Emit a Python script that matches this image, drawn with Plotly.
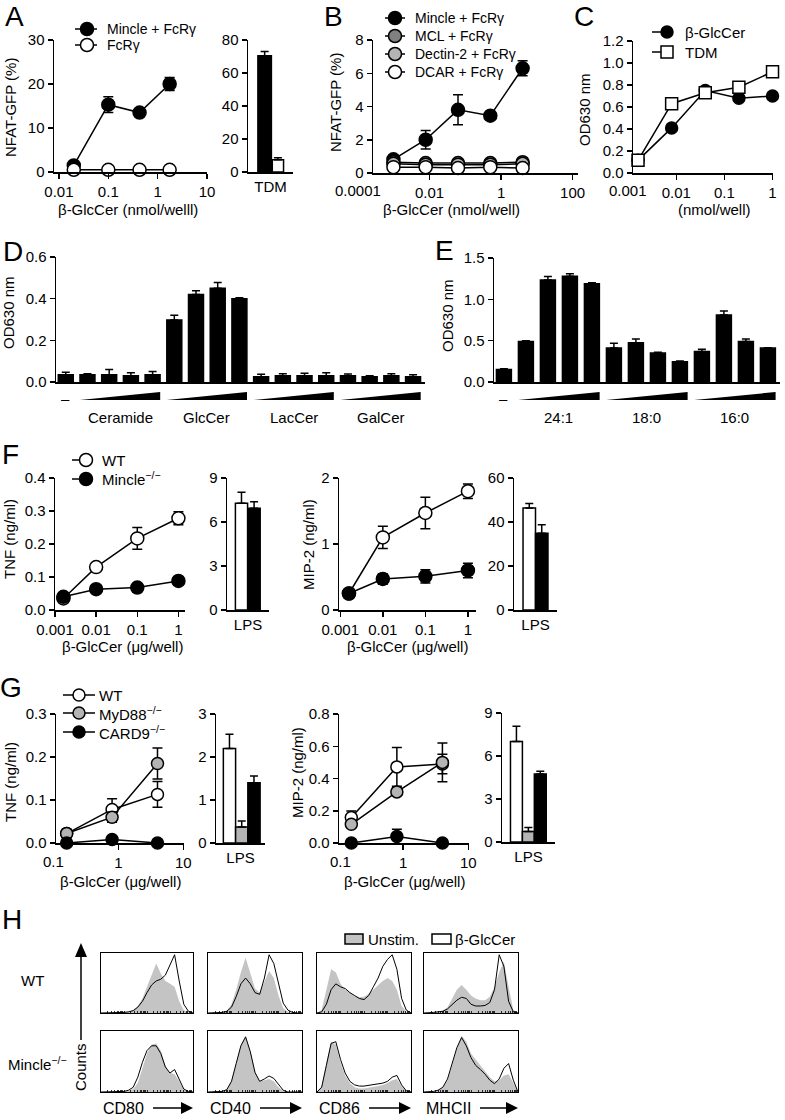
import plotly.graph_objects as go

W, H = 785, 1120
FONT = "Liberation Sans, Arial, Helvetica, sans-serif"

# ======================= DATA =======================
# ---- A ----
A_DOSE = [0.02, 0.1, 0.43, 1.75]
A_MINCLE = [1.5, 15.3, 13.5, 20.0]
A_MINCLE_ERR = [0.5, 1.8, 0.6, 1.5]
A_FCRG = [0.5, 0.5, 0.5, 0.5]
A_FCRG_ERR = [0.2, 0.2, 0.2, 0.2]
A_BAR_CAT = ["TDM"]
A_BAR_MINCLE = [70.5]
A_BAR_MINCLE_ERR = [2.5]
A_BAR_FCRG = [7.5]
A_BAR_FCRG_ERR = [1.2]

# ---- B ----
B_DOSE = [0.00098, 0.0078, 0.0625, 0.5, 4]
B_MINCLE = [0.82, 2.0, 3.8, 3.45, 6.3]
B_MINCLE_ERR = [0.15, 0.55, 0.9, 0.1, 0.45]
B_MCL = [0.65, 0.6, 0.6, 0.6, 0.65]
B_DECTIN2 = [0.55, 0.5, 0.5, 0.5, 0.55]
B_DCAR = [0.35, 0.35, 0.3, 0.35, 0.3]

# ---- C ----
C_DOSE = [0.0016, 0.008, 0.04, 0.2, 1]
C_GLCCER = [0.115, 0.41, 0.75, 0.68, 0.70]
C_GLCCER_ERR = [0.01, 0.03, 0.02, 0.02, 0.02]
C_TDM = [0.115, 0.63, 0.73, 0.78, 0.92]
C_TDM_ERR = [0.01, 0.02, 0.02, 0.02, 0.02]

# ---- D ----
D_GROUPS = ["Ceramide", "GlcCer", "LacCer", "GalCer"]
D_CONTROL = [0.035]
D_CONTROL_ERR = [0.012]
D_CERAMIDE = [0.035, 0.035, 0.03, 0.035]
D_CERAMIDE_ERR = [0.005, 0.025, 0.015, 0.015]
D_GLCCER = [0.298, 0.42, 0.45, 0.40]
D_GLCCER_ERR = [0.022, 0.018, 0.028, 0.004]
D_LACCER = [0.025, 0.03, 0.03, 0.03]
D_LACCER_ERR = [0.012, 0.01, 0.012, 0.015]
D_GALCER = [0.03, 0.025, 0.03, 0.025]
D_GALCER_ERR = [0.008, 0.005, 0.01, 0.01]

# ---- E ----
E_GROUPS = ["24:1", "18:0", "16:0"]
E_CONTROL = [0.15]
E_CONTROL_ERR = [0.01]
E_241 = [0.49, 1.235, 1.28, 1.19]
E_241_ERR = [0.01, 0.04, 0.03, 0.01]
E_180 = [0.41, 0.475, 0.35, 0.245]
E_180_ERR = [0.06, 0.045, 0.01, 0.01]
E_160 = [0.37, 0.81, 0.49, 0.41]
E_160_ERR = [0.025, 0.05, 0.03, 0.005]

# ---- F ----
F_DOSE = [0.0016, 0.01, 0.1, 1]
F_TNF_WT = [0.035, 0.13, 0.217, 0.278]
F_TNF_WT_ERR = [0.005, 0.01, 0.033, 0.02]
F_TNF_KO = [0.04, 0.063, 0.068, 0.088]
F_TNF_KO_ERR = [0.004, 0.005, 0.005, 0.006]
F_LPS_CAT = ["LPS"]
F_TNF_LPS_WT = [7.27]
F_TNF_LPS_WT_ERR = [0.75]
F_TNF_LPS_KO = [6.93]
F_TNF_LPS_KO_ERR = [0.45]
F_MIP_WT = [0.25, 1.1, 1.47, 1.8]
F_MIP_WT_ERR = [0.03, 0.17, 0.24, 0.11]
F_MIP_KO = [0.25, 0.47, 0.51, 0.6]
F_MIP_KO_ERR = [0.03, 0.08, 0.1, 0.11]
F_MIP_LPS_WT = [46.4]
F_MIP_LPS_WT_ERR = [2.0]
F_MIP_LPS_KO = [34.9]
F_MIP_LPS_KO_ERR = [3.9]

# ---- G ----
G_DOSE = [0.16, 0.8, 4]
G_TNF_WT = [0.022, 0.078, 0.113]
G_TNF_WT_ERR = [0.008, 0.025, 0.03]
G_TNF_MYD88 = [0.022, 0.06, 0.185]
G_TNF_MYD88_ERR = [0.01, 0.012, 0.036]
G_TNF_CARD9 = [0.0, 0.008, 0.0]
G_TNF_CARD9_ERR = [0.003, 0.004, 0.002]
G_LPS_CAT = ["LPS"]
G_TNF_LPS_WT = [2.2]
G_TNF_LPS_WT_ERR = [0.33]
G_TNF_LPS_MYD88 = [0.37]
G_TNF_LPS_MYD88_ERR = [0.14]
G_TNF_LPS_CARD9 = [1.4]
G_TNF_LPS_CARD9_ERR = [0.16]
G_MIP_WT = [0.158, 0.472, 0.49]
G_MIP_WT_ERR = [0.04, 0.12, 0.06]
G_MIP_MYD88 = [0.116, 0.317, 0.5]
G_MIP_MYD88_ERR = [0.02, 0.02, 0.12]
G_MIP_CARD9 = [0.0, 0.04, 0.0]
G_MIP_CARD9_ERR = [0.005, 0.045, 0.005]
G_MIP_LPS_WT = [7.02]
G_MIP_LPS_WT_ERR = [1.05]
G_MIP_LPS_MYD88 = [0.74]
G_MIP_LPS_MYD88_ERR = [0.28]
G_MIP_LPS_CARD9 = [4.74]
G_MIP_LPS_CARD9_ERR = [0.2]

# ---- H (flow histograms, relative counts per fluorescence bin) ----
H_MARKERS = ["CD80", "CD40", "CD86", "MHCII"]
H_BINS = [1, 1.58, 2.51, 3.98, 6.31, 10, 15.8, 25.1, 39.8, 63.1, 100,
          158, 251, 398, 631, 1000, 1585, 2512, 3981, 6310, 10000]
H_WT_CD80_UNSTIM = [0, 0, 0, 0, 0, 1, 2, 5, 12, 25, 45, 65, 85, 68, 55, 50, 45, 20, 5, 1, 0]
H_WT_CD80_GLC = [0, 0, 0, 0, 0, 1, 2, 4, 10, 20, 35, 48, 55, 58, 65, 82, 100, 55, 15, 3, 0]
H_WT_CD40_UNSTIM = [0, 0, 0, 1, 4, 15, 40, 70, 95, 70, 42, 35, 55, 72, 60, 30, 8, 2, 0, 0, 0]
H_WT_CD40_GLC = [0, 0, 0, 1, 3, 10, 28, 50, 60, 50, 35, 32, 60, 100, 85, 50, 17, 5, 1, 0, 0]
H_WT_CD86_UNSTIM = [0, 5, 40, 75, 70, 50, 40, 35, 30, 27, 28, 33, 40, 48, 55, 60, 55, 40, 12, 2, 0]
H_WT_CD86_GLC = [0, 2, 15, 40, 50, 45, 42, 35, 30, 25, 23, 30, 45, 60, 80, 92, 100, 75, 25, 5, 0]
H_WT_MHCII_UNSTIM = [0, 0, 1, 2, 4, 10, 25, 40, 48, 40, 30, 25, 22, 22, 28, 45, 70, 88, 45, 5, 0]
H_WT_MHCII_GLC = [0, 0, 1, 2, 3, 7, 15, 22, 27, 25, 15, 12, 12, 13, 18, 40, 100, 80, 20, 2, 0]
H_KO_CD80_UNSTIM = [0, 0, 0, 0, 0, 1, 2, 5, 15, 40, 65, 80, 82, 70, 45, 32, 30, 18, 4, 1, 0]
H_KO_CD80_GLC = [0, 0, 0, 0, 0, 1, 3, 8, 25, 50, 70, 78, 78, 65, 42, 32, 38, 22, 5, 1, 0]
H_KO_CD40_UNSTIM = [0, 0, 0, 1, 5, 20, 50, 80, 95, 70, 35, 18, 20, 22, 18, 8, 2, 0, 0, 0, 0]
H_KO_CD40_GLC = [0, 0, 0, 1, 4, 18, 48, 78, 93, 68, 33, 18, 22, 27, 23, 12, 3, 0, 0, 0, 0]
H_KO_CD86_UNSTIM = [0, 10, 50, 85, 80, 50, 28, 15, 8, 6, 6, 7, 8, 10, 12, 15, 20, 22, 10, 2, 0]
H_KO_CD86_GLC = [0, 8, 45, 82, 85, 55, 32, 18, 12, 10, 10, 11, 12, 14, 15, 18, 25, 28, 12, 2, 0]
H_KO_MHCII_UNSTIM = [0, 0, 1, 3, 8, 20, 45, 75, 95, 85, 65, 55, 45, 35, 25, 18, 20, 28, 30, 15, 0]
H_KO_MHCII_GLC = [0, 0, 1, 3, 8, 22, 48, 75, 92, 78, 58, 45, 38, 30, 20, 14, 22, 40, 48, 20, 0]

# ======================= HELPERS =======================
BLACK, WHITE = "black", "white"
DGRAY, LGRAY, HGRAY = "#808080", "#b4b4b4", "#c4c4c4"
LW = 1.5


def PX(x):
    return x / W


def PY(y):
    return 1 - y / H


AXBASE = dict(showline=True, linecolor=BLACK, linewidth=LW, ticks="outside",
              tickcolor=BLACK, ticklen=5, tickwidth=LW, showgrid=False,
              zeroline=False, automargin=False,
              tickfont=dict(size=15, color=BLACK, family=FONT),
              fixedrange=True)

fig = go.Figure()
axes_layout = {}
counter = [0]


def new_axes(x0, x1, top, bot, xcfg, ycfg):
    counter[0] += 1
    k = counter[0]
    s = "" if k == 1 else str(k)
    xa = dict(AXBASE)
    xa.update(domain=[PX(x0), PX(x1)], anchor="y" + s)
    xa.update(xcfg)
    ya = dict(AXBASE)
    ya.update(domain=[PY(bot), PY(top)], anchor="x" + s)
    ya.update(ycfg)
    axes_layout["xaxis" + s] = xa
    axes_layout["yaxis" + s] = ya
    return "x" + s, "y" + s


def line_tr(xa, ya, x, y, err, fill, size=13, symbol="circle"):
    eb = dict(type="data", array=err, color=BLACK, thickness=LW, width=5) if err else dict(visible=False)
    return go.Scatter(x=x, y=y, xaxis=xa, yaxis=ya, mode="lines+markers",
                      line=dict(color=BLACK, width=LW),
                      marker=dict(symbol=symbol, size=size, color=fill,
                                  line=dict(color=BLACK, width=LW)),
                      error_y=eb, cliponaxis=False, showlegend=False, hoverinfo="skip")


def bar_tr(xa, ya, x, y, err, fill, width, offset=None):
    return go.Bar(x=x, y=y, xaxis=xa, yaxis=ya, width=width, offset=offset,
                  marker=dict(color=fill, line=dict(color=BLACK, width=LW)),
                  error_y=dict(type="data", symmetric=False, array=err,
                               arrayminus=[0] * len(err), color=BLACK,
                               thickness=LW, width=4),
                  showlegend=False, hoverinfo="skip")


annotations = []
shapes = []


def text(x, y, s, size=15, angle=0, xanchor="center", yanchor="middle"):
    annotations.append(dict(x=PX(x), y=PY(y), xref="paper", yref="paper", text=s,
                            showarrow=False, textangle=angle, xanchor=xanchor,
                            yanchor=yanchor, font=dict(size=size, color=BLACK, family=FONT)))


def legend_entry(y, lx0, lx1, mx, fill, tx, label, size=13, symbol="circle", fsize=15):
    shapes.append(dict(type="line", xref="paper", yref="paper", x0=PX(lx0), x1=PX(lx1),
                       y0=PY(y), y1=PY(y), line=dict(color=BLACK, width=LW)))
    r = size / 2
    shapes.append(dict(type="circle" if symbol == "circle" else "rect", xref="paper", yref="paper",
                       x0=PX(mx - r), x1=PX(mx + r), y0=PY(y + r), y1=PY(y - r),
                       fillcolor=fill, line=dict(color=BLACK, width=LW)))
    text(tx, y, label, size=fsize, xanchor="left")


def log_ticks(vals, labels):
    return dict(type="log", tickvals=vals, ticktext=labels)


# ======================= A =======================
cfg = log_ticks([0.01, 0.1, 1, 10], ["0.01", "0.1", "1", "10"])
cfg.update(range=[-2.1, 1.0])
xa, ya = new_axes(54, 207, 40, 172, cfg, dict(range=[0, 30], tickvals=[0, 10, 20, 30]))
fig.add_trace(line_tr(xa, ya, A_DOSE, A_MINCLE, A_MINCLE_ERR, BLACK))
fig.add_trace(line_tr(xa, ya, A_DOSE, A_FCRG, A_FCRG_ERR, WHITE))

xa, ya = new_axes(248, 293, 40, 172,
                  dict(type="category", range=[-0.5, 0.5], tickson="boundaries", ticks="inside", ticklen=5),
                  dict(range=[0, 80], tickvals=[0, 20, 40, 60, 80]))
fig.add_trace(bar_tr(xa, ya, A_BAR_CAT, A_BAR_MINCLE, A_BAR_MINCLE_ERR, BLACK, 0.3, -0.28))
fig.add_trace(bar_tr(xa, ya, A_BAR_CAT, A_BAR_FCRG, A_BAR_FCRG_ERR, WHITE, 0.25, 0.04))

text(14, 17, "A", size=28)
text(11, 108, "NFAT-GFP (%)", angle=-90)
text(128, 209, "β-GlcCer (nmol/welll)")
legend_entry(29, 75, 97, 87, BLACK, 105, "Mincle + FcRγ", fsize=14)
legend_entry(45, 75, 97, 87, WHITE, 105, "FcRγ", fsize=14)

# ======================= B =======================
cfg = log_ticks([0.01, 1, 100], ["0.01", "1", "100"])
cfg.update(range=[-3.58, 2.15])
xa, ya = new_axes(373, 578, 40, 173, cfg, dict(range=[0, 8], tickvals=[0, 2, 4, 6, 8]))
fig.add_trace(line_tr(xa, ya, B_DOSE, B_MINCLE, B_MINCLE_ERR, BLACK))
fig.add_trace(line_tr(xa, ya, B_DOSE, B_MCL, None, DGRAY))
fig.add_trace(line_tr(xa, ya, B_DOSE, B_DECTIN2, None, LGRAY))
fig.add_trace(line_tr(xa, ya, B_DOSE, B_DCAR, None, WHITE))
text(358, 191, "0.0001")
text(333, 17, "B", size=28)
text(335, 103, "NFAT-GFP (%)", angle=-90)
text(451, 209, "β-GlcCer (nmol/well)")
for yy, fill, lab in [(18, BLACK, "Mincle + FcRγ"), (36, DGRAY, "MCL + FcRγ"),
                      (54, LGRAY, "Dectin-2 + FcRγ"), (72, WHITE, "DCAR + FcRγ")]:
    legend_entry(yy, 385, 405, 395, fill, 413, lab, fsize=14)

# ======================= C =======================
cfg = log_ticks([0.01, 0.1, 1], ["0.01", "0.1", "1"])
cfg.update(range=[-2.9, 0.01])
xa, ya = new_axes(633, 773, 41, 173, cfg,
                  dict(range=[0, 1.2], tickvals=[0, 0.2, 0.4, 0.6, 0.8, 1.0, 1.2], tickformat=".1f"))
fig.add_trace(line_tr(xa, ya, C_DOSE, C_GLCCER, C_GLCCER_ERR, BLACK, size=12))
fig.add_trace(line_tr(xa, ya, C_DOSE, C_TDM, C_TDM_ERR, WHITE, size=12, symbol="square"))
text(628, 191, "0.001")
text(584, 17, "C", size=28)
text(585, 110, "OD630 nm", angle=-90)
text(714, 209, "(nmol/well)")
legend_entry(32, 652, 666, 667, BLACK, 683, "β-GlcCer", size=12)
legend_entry(52, 652, 666, 667, WHITE, 683, "TDM", size=12, symbol="square")

# ======================= D =======================
D_VALUES = D_CONTROL + D_CERAMIDE + D_GLCCER + D_LACCER + D_GALCER
D_ERRS = D_CONTROL_ERR + D_CERAMIDE_ERR + D_GLCCER_ERR + D_LACCER_ERR + D_GALCER_ERR
D_POS = list(range(len(D_VALUES)))
xa, ya = new_axes(56, 425, 257, 382,
                  dict(range=[-0.45, len(D_VALUES) - 0.45], ticks="", showticklabels=False),
                  dict(range=[0, 0.6], tickvals=[0, 0.2, 0.4, 0.6], tickformat=".1f"))
fig.add_trace(bar_tr(xa, ya, D_POS, D_VALUES, D_ERRS, BLACK, 0.69))
text(13, 252, "D", size=28)
text(8, 313, "OD630 nm", angle=-90)
annotations.append(dict(x=0, y=PY(399), xref=xa, yref="paper", text="–", showarrow=False,
                        font=dict(size=15, color=BLACK, family=FONT)))
for g, name in enumerate(D_GROUPS):
    s0, s1 = 1 + 4 * g, 4 + 4 * g
    shapes.append(dict(type="path", xref=xa, yref="paper",
                       path=f"M {s0 - 0.35},{PY(400)} L {s1 + 0.35},{PY(400)} L {s1 + 0.35},{PY(392)} Z",
                       fillcolor=BLACK, line=dict(width=0)))
    annotations.append(dict(x=(s0 + s1) / 2, y=PY(417), xref=xa, yref="paper", text=name,
                            showarrow=False, font=dict(size=15, color=BLACK, family=FONT)))

# ======================= E =======================
E_VALUES = E_CONTROL + E_241 + E_180 + E_160
E_ERRS = E_CONTROL_ERR + E_241_ERR + E_180_ERR + E_160_ERR
E_POS = list(range(len(E_VALUES)))
xa, ya = new_axes(494, 780, 258, 382,
                  dict(range=[-0.45, len(E_VALUES) - 0.45], ticks="", showticklabels=False),
                  dict(range=[0, 1.5], tickvals=[0, 0.5, 1.0, 1.5], tickformat=".1f"))
fig.add_trace(bar_tr(xa, ya, E_POS, E_VALUES, E_ERRS, BLACK, 0.68))
text(444, 251, "E", size=28)
text(447, 316, "OD630 nm", angle=-90)
annotations.append(dict(x=0, y=PY(399), xref=xa, yref="paper", text="–", showarrow=False,
                        font=dict(size=15, color=BLACK, family=FONT)))
for g, name in enumerate(E_GROUPS):
    s0, s1 = 1 + 4 * g, 4 + 4 * g
    shapes.append(dict(type="path", xref=xa, yref="paper",
                       path=f"M {s0 - 0.35},{PY(400)} L {s1 + 0.35},{PY(400)} L {s1 + 0.35},{PY(392)} Z",
                       fillcolor=BLACK, line=dict(width=0)))
    annotations.append(dict(x=(s0 + s1) / 2, y=PY(417), xref=xa, yref="paper", text=name,
                            showarrow=False, font=dict(size=15, color=BLACK, family=FONT)))

# ======================= F =======================
cfg = log_ticks([0.001, 0.01, 0.1, 1], ["0.001", "0.01", "0.1", "1"])
cfg.update(range=[-3.0, 0.16])
xa, ya = new_axes(55, 185, 478, 610, cfg,
                  dict(range=[0, 0.4], tickvals=[0, 0.1, 0.2, 0.3, 0.4], tickformat=".1f"))
fig.add_trace(line_tr(xa, ya, F_DOSE, F_TNF_WT, F_TNF_WT_ERR, WHITE))
fig.add_trace(line_tr(xa, ya, F_DOSE, F_TNF_KO, F_TNF_KO_ERR, BLACK))

xa, ya = new_axes(227, 269, 478, 610,
                  dict(type="category", range=[-0.5, 0.5], tickson="boundaries", ticks="inside"),
                  dict(range=[0, 9], tickvals=[0, 3, 6, 9]))
fig.add_trace(bar_tr(xa, ya, F_LPS_CAT, F_TNF_LPS_WT, F_TNF_LPS_WT_ERR, WHITE, 0.29, -0.3))
fig.add_trace(bar_tr(xa, ya, F_LPS_CAT, F_TNF_LPS_KO, F_TNF_LPS_KO_ERR, BLACK, 0.29, 0.0))

cfg = log_ticks([0.001, 0.01, 0.1, 1], ["0.001", "0.01", "0.1", "1"])
cfg.update(range=[-3.03, 0.19])
xa, ya = new_axes(339, 476, 478, 610, cfg, dict(range=[0, 2], tickvals=[0, 1, 2]))
fig.add_trace(line_tr(xa, ya, F_DOSE, F_MIP_WT, F_MIP_WT_ERR, WHITE))
fig.add_trace(line_tr(xa, ya, F_DOSE, F_MIP_KO, F_MIP_KO_ERR, BLACK))

xa, ya = new_axes(514, 557, 478, 610,
                  dict(type="category", range=[-0.5, 0.5], tickson="boundaries", ticks="inside"),
                  dict(range=[0, 60], tickvals=[0, 20, 40, 60]))
fig.add_trace(bar_tr(xa, ya, F_LPS_CAT, F_MIP_LPS_WT, F_MIP_LPS_WT_ERR, WHITE, 0.29, -0.29))
fig.add_trace(bar_tr(xa, ya, F_LPS_CAT, F_MIP_LPS_KO, F_MIP_LPS_KO_ERR, BLACK, 0.29, 0.0))

text(10, 454, "F", size=28)
text(9, 539, "TNF (ng/ml)", angle=-90)
text(309, 545, "MIP-2 (ng/ml)", angle=-90)
text(122, 647, "β-GlcCer (μg/well)")
text(407, 647, "β-GlcCer (μg/well)")
legend_entry(460, 72, 86, 86, WHITE, 100, "WT")
legend_entry(479, 72, 86, 86, BLACK, 100, "Mincle<sup>−/−</sup>")

# ======================= G =======================
cfg = log_ticks([0.1, 1, 10], ["0.1", "1", "10"])
cfg.update(range=[-0.96, 1.01])
xa, ya = new_axes(56, 184, 714, 843, cfg,
                  dict(range=[0, 0.3], tickvals=[0, 0.1, 0.2, 0.3], tickformat=".1f"))
fig.add_trace(line_tr(xa, ya, G_DOSE, G_TNF_WT, G_TNF_WT_ERR, WHITE, size=12))
fig.add_trace(line_tr(xa, ya, G_DOSE, G_TNF_MYD88, G_TNF_MYD88_ERR, LGRAY, size=12))
fig.add_trace(line_tr(xa, ya, G_DOSE, G_TNF_CARD9, G_TNF_CARD9_ERR, BLACK, size=12))

xa, ya = new_axes(216, 265, 714, 843,
                  dict(type="category", range=[-0.5, 0.5], tickson="boundaries", ticks="inside"),
                  dict(range=[0, 3], tickvals=[0, 1, 2, 3]))
fig.add_trace(bar_tr(xa, ya, G_LPS_CAT, G_TNF_LPS_WT, G_TNF_LPS_WT_ERR, WHITE, 0.25, -0.35))
fig.add_trace(bar_tr(xa, ya, G_LPS_CAT, G_TNF_LPS_MYD88, G_TNF_LPS_MYD88_ERR, LGRAY, 0.25, -0.10))
fig.add_trace(bar_tr(xa, ya, G_LPS_CAT, G_TNF_LPS_CARD9, G_TNF_LPS_CARD9_ERR, BLACK, 0.25, 0.15))

cfg = log_ticks([0.1, 1, 10], ["0.1", "1", "10"])
cfg.update(range=[-0.985, 1.01])
xa, ya = new_axes(339, 469, 714, 843, cfg,
                  dict(range=[0, 0.8], tickvals=[0, 0.2, 0.4, 0.6, 0.8], tickformat=".1f"))
fig.add_trace(line_tr(xa, ya, G_DOSE, G_MIP_WT, G_MIP_WT_ERR, WHITE, size=12))
fig.add_trace(line_tr(xa, ya, G_DOSE, G_MIP_MYD88, G_MIP_MYD88_ERR, LGRAY, size=12))
fig.add_trace(line_tr(xa, ya, G_DOSE, G_MIP_CARD9, G_MIP_CARD9_ERR, BLACK, size=12))

xa, ya = new_axes(502, 555, 713, 842,
                  dict(type="category", range=[-0.5, 0.5], tickson="boundaries", ticks="inside"),
                  dict(range=[0, 9], tickvals=[0, 3, 6, 9]))
fig.add_trace(bar_tr(xa, ya, G_LPS_CAT, G_MIP_LPS_WT, G_MIP_LPS_WT_ERR, WHITE, 0.225, -0.34))
fig.add_trace(bar_tr(xa, ya, G_LPS_CAT, G_MIP_LPS_MYD88, G_MIP_LPS_MYD88_ERR, LGRAY, 0.225, -0.115))
fig.add_trace(bar_tr(xa, ya, G_LPS_CAT, G_MIP_LPS_CARD9, G_MIP_LPS_CARD9_ERR, BLACK, 0.225, 0.11))

text(53, 861, "0.1")
text(340, 861, "0.1")
text(11, 687, "G", size=28)
text(10, 782, "TNF (ng/ml)", angle=-90)
text(297, 773, "MIP-2 (ng/ml)", angle=-90)
text(120, 881, "β-GlcCer (μg/well)")
text(404, 881, "β-GlcCer (μg/well)")
legend_entry(695, 63, 95, 79, WHITE, 97, "WT", size=12)
legend_entry(713, 63, 95, 79, LGRAY, 97, "MyD88<sup>−/−</sup>", size=12)
legend_entry(732, 63, 95, 79, BLACK, 97, "CARD9<sup>−/−</sup>", size=12)

# ======================= H =======================
H_ROWS = [
    ("WT", [H_WT_CD80_UNSTIM, H_WT_CD40_UNSTIM, H_WT_CD86_UNSTIM, H_WT_MHCII_UNSTIM],
     [H_WT_CD80_GLC, H_WT_CD40_GLC, H_WT_CD86_GLC, H_WT_MHCII_GLC]),
    ("KO", [H_KO_CD80_UNSTIM, H_KO_CD40_UNSTIM, H_KO_CD86_UNSTIM, H_KO_MHCII_UNSTIM],
     [H_KO_CD80_GLC, H_KO_CD40_GLC, H_KO_CD86_GLC, H_KO_MHCII_GLC]),
]
COL_X = [(101, 193), (208, 302), (317, 411), (424, 518)]
ROW_Y = [(953, 1013), (1031, 1092)]
for r, (_, unstim, glc) in enumerate(H_ROWS):
    for c in range(4):
        xa, ya = new_axes(COL_X[c][0], COL_X[c][1], ROW_Y[r][0], ROW_Y[r][1],
                          dict(type="log", range=[0, 4], mirror=True, ticks="inside", ticklen=2.5,
                               tickwidth=0.8, dtick="D1", showticklabels=False, linewidth=1.1),
                          dict(range=[0, 103], mirror=True, ticks="", showticklabels=False,
                               linewidth=1.1))
        fig.add_trace(go.Scatter(x=H_BINS, y=unstim[c], xaxis=xa, yaxis=ya, mode="lines",
                                 fill="tozeroy", fillcolor=HGRAY, line=dict(width=0, color=HGRAY),
                                 showlegend=False, hoverinfo="skip"))
        fig.add_trace(go.Scatter(x=H_BINS, y=glc[c], xaxis=xa, yaxis=ya, mode="lines",
                                 line=dict(width=1, color=BLACK), showlegend=False, hoverinfo="skip"))

text(12, 919, "H", size=28)
text(32, 980, "WT", size=15)
text(37, 1063, "Mincle<sup>−/−</sup>", size=15)
text(80, 1067, "Counts", size=15, angle=-90)
# vertical arrow
shapes.append(dict(type="line", xref="paper", yref="paper", x0=PX(81), x1=PX(81),
                   y0=PY(1040), y1=PY(955), line=dict(color=BLACK, width=LW)))
shapes.append(dict(type="path", xref="paper", yref="paper",
                   path=f"M {PX(75)},{PY(957)} L {PX(87)},{PY(957)} L {PX(81)},{PY(943)} Z",
                   fillcolor=BLACK, line=dict(width=0)))
# marker labels with arrows
for c, name in enumerate(H_MARKERS):
    x0 = COL_X[c][0]
    x1 = COL_X[c][1]
    text(x0, 1108, name, size=16, xanchor="left")
    ax0 = x0 + (52 if name != "MHCII" else 56)
    shapes.append(dict(type="line", xref="paper", yref="paper", x0=PX(ax0), x1=PX(x1 - 8),
                       y0=PY(1108), y1=PY(1108), line=dict(color=BLACK, width=LW)))
    shapes.append(dict(type="path", xref="paper", yref="paper",
                       path=f"M {PX(x1 - 12)},{PY(1102)} L {PX(x1 - 12)},{PY(1114)} L {PX(x1)},{PY(1108)} Z",
                       fillcolor=BLACK, line=dict(width=0)))
# legend
shapes.append(dict(type="rect", xref="paper", yref="paper", x0=PX(345), x1=PX(363),
                   y0=PY(944), y1=PY(934), fillcolor=HGRAY, line=dict(color=BLACK, width=LW)))
text(366, 939, "Unstim.", size=15, xanchor="left")
shapes.append(dict(type="rect", xref="paper", yref="paper", x0=PX(432), x1=PX(451),
                   y0=PY(944), y1=PY(934), fillcolor=WHITE, line=dict(color=BLACK, width=LW)))
text(453, 939, "β-GlcCer", size=15, xanchor="left")

fig.update_layout(
    template="none",
    width=W, height=H, autosize=False, margin=dict(l=0, r=0, t=0, b=0, pad=0),
    paper_bgcolor="white", plot_bgcolor="white", showlegend=False,
    barmode="overlay", font=dict(family=FONT, size=15, color=BLACK),
    annotations=annotations, shapes=shapes, **axes_layout,
)
fig.write_html("out.html", config={"displayModeBar": False, "staticPlot": True},
               post_script="document.body.style.margin='0px';document.body.style.overflow='hidden';")
